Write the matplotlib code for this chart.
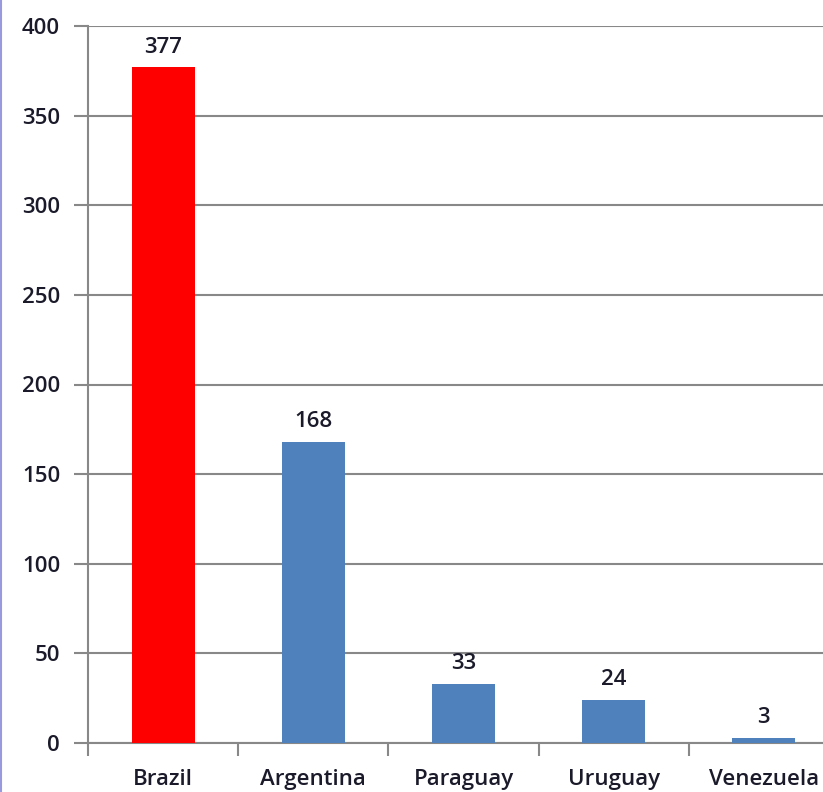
import matplotlib
matplotlib.use("Agg")
import matplotlib.pyplot as plt
from matplotlib.lines import Line2D

countries = ["Brazil", "Argentina", "Paraguay", "Uruguay", "Venezuela"]
values = [377, 168, 33, 24, 3]
colors = ["#FF0000", "#4F81BD", "#4F81BD", "#4F81BD", "#4F81BD"]
yticks = [0, 50, 100, 150, 200, 250, 300, 350, 400]

plt.rcParams['font.family'] = ['Open Sans', 'DejaVu Sans']
FS = 16
FW = 'semibold'
TC = '#1a1a2a'

fig = plt.figure(figsize=(8.23, 7.92), dpi=100)
ax = fig.add_axes([88/823, 49/792, 751/823, 717/792])

x = list(range(len(countries)))
bars = ax.bar(x, values, width=0.42, color=colors, zorder=3)
for xi, v in zip(x, values):
    ax.annotate(str(v), (xi, v), xytext=(0, 7), textcoords='offset points',
                ha='center', va='bottom', fontsize=FS, fontweight=FW, color=TC, zorder=4)

ax.set_xlim(-0.5, 4.5)
ax.set_ylim(0, 400)
ax.set_yticks(yticks)
ax.set_yticklabels([str(t) for t in yticks], fontsize=FS, fontweight=FW, color=TC)
ax.set_xticks([i - 0.5 for i in range(len(countries) + 1)])
ax.set_xticklabels([])
ax.set_xticks(x, minor=True)
ax.set_xticklabels(countries, minor=True, fontsize=FS, fontweight=FW, color=TC)
ax.tick_params(axis='x', which='minor', length=0, pad=19)
ax.tick_params(axis='x', which='major', length=9, width=1.5, color='#888888', direction='out')
ax.tick_params(axis='y', length=10, width=1.5, color='#888888', direction='out', pad=10)

ax.grid(axis='y', color='#888888', linewidth=1.5, zorder=0)
for s in ['top', 'right']:
    ax.spines[s].set_visible(False)
ax.spines['left'].set_color('#888888')
ax.spines['left'].set_linewidth(1.5)
ax.spines['bottom'].set_color('#888888')
ax.spines['bottom'].set_linewidth(1.5)

fig.add_artist(Line2D([0.001, 0.001], [0, 1], transform=fig.transFigure, color='#9999DD', linewidth=1.5))

fig.savefig("out.png", dpi=100)
